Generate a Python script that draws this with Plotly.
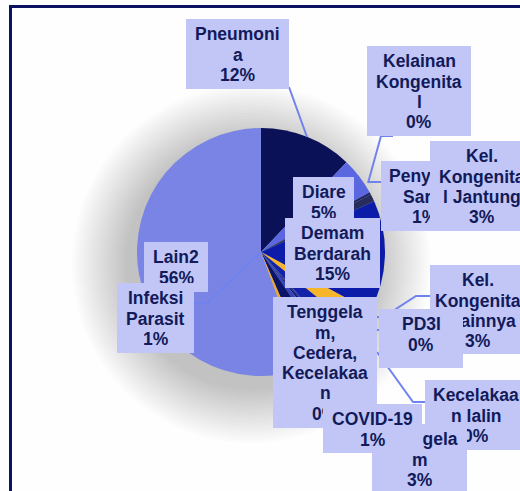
import plotly.graph_objects as go

W, H = 520, 491

# Causes of death and their shares (percent of total), in slice order
causes = [
    "Pneumonia", "Diare", "Kelainan Kongenital", "Penyakit Saraf",
    "Demam Berdarah", "Kel. Kongenital Jantung", "Kel. Kongenital Lainnya",
    "PD3I", "Tenggelam, Cedera, Kecelakaan", "Kecelakaan lalin",
    "COVID-19", "Tenggelam", "Infeksi Parasit", "Lain2",
]
shares = [12.1, 4.9, 0.3, 1.0, 14.6, 2.9, 2.8, 0.2, 0.3, 0.4, 1.1, 2.9, 0.9, 55.6]
slice_colors = [
    "#0a1157", "#5a67e0", "#1c2466", "#262d5c", "#0c1ca8", "#f7b52a",
    "#1222aa", "#2a3cc0", "#0b1575", "#0a1160", "#3344c0", "#0b1466",
    "#f0a820", "#7a84e4",
]
# Wrapped label text lines (percentage appended from the data)
label_lines = [
    ["Pneumoni", "a"], ["Diare"], ["Kelainan", "Kongenita", "l"], ["Penyakit", "Saraf"],
    ["Demam", "Berdarah"], ["Kel.", "Kongenita", "l Jantung"], ["Kel.", "Kongenita", "l Lainnya"],
    ["PD3I"], ["Tenggela", "m,", "Cedera,", "Kecelakaa", "n"], ["Kecelakaa", "n lalin"],
    ["COVID-19"], ["Tenggela", "m"], ["Infeksi", "Parasit"], ["Lain2"],
]

# Label boxes in pixels: left, top, right, bottom
label_boxes = {
    "Pneumonia": (186, 19, 289, 89),
    "Kelainan Kongenital": (367, 46, 471, 136),
    "Penyakit Saraf": (381, 161, 469, 231),
    "Kel. Kongenital Jantung": (430, 141, 533, 231),
    "Diare": (293, 177, 354, 227),
    "Demam Berdarah": (285, 218, 380, 288),
    "Lain2": (144, 242, 208, 292),
    "Infeksi Parasit": (117, 283, 194, 353),
    "Tenggelam, Cedera, Kecelakaan": (273, 297, 377, 428),
    "Kel. Kongenital Lainnya": (430, 265, 526, 354),
    "PD3I": (379, 309, 463, 368),
    "Kecelakaan lalin": (425, 380, 527, 450),
    "Tenggelam": (372, 424, 467, 494),
    "COVID-19": (323, 404, 422, 453),
}
draw_order = [
    "Pneumonia", "Kelainan Kongenital", "Penyakit Saraf", "Kel. Kongenital Jantung",
    "Diare", "Demam Berdarah", "Lain2", "Infeksi Parasit",
    "Tenggelam, Cedera, Kecelakaan", "Kel. Kongenital Lainnya", "PD3I",
    "Kecelakaan lalin", "Tenggelam", "COVID-19",
]

# Leader lines (pixel polylines)
leaders = [
    [(289, 87), (307, 137)],
    [(393, 136), (381, 136), (368, 183)],
    [(381, 182), (368, 182)],
    [(261, 252), (207, 303), (194, 303)],
    [(430, 296), (416, 296), (385, 316), (372, 318)],
    [(379, 330), (372, 330)],
    [(425, 402), (413, 402), (377, 352)],
]

# Pie placement (pixels)
cx, cy, r = 261, 252, 124

FONT = "Liberation Sans, Arial, sans-serif"
FS = 17.5          # label font size
PITCH = 20.3       # distance between label lines
FIRST_BASE = 21    # first baseline below the box top


def px(x):
    return x / W


def py(y):
    return 1 - y / H


total = sum(shares)
pct = {c: f"{round(v / total * 100)}%" for c, v in zip(causes, shares)}
lines_of = {c: lines + [pct[c]] for c, lines in zip(causes, label_lines)}

fig = go.Figure(go.Pie(
    labels=causes,
    values=shares,
    sort=False,
    direction="clockwise",
    rotation=0,
    marker=dict(colors=slice_colors, line=dict(width=0)),
    textinfo="none",
    hoverinfo="label+percent",
    showlegend=False,
    domain=dict(x=[px(cx - r), px(cx + r)], y=[py(cy + r), py(cy - r)]),
))

shapes = []
# Soft drop shadow under the pie
sx, sy = 251, 264
for i in range(20):
    rr = r + 2 + i * 2.8
    shapes.append(dict(
        type="circle", xref="paper", yref="paper", layer="below",
        x0=px(sx - rr), x1=px(sx + rr), y0=py(sy + rr), y1=py(sy - rr),
        fillcolor="rgba(0,0,0,0.010)", line=dict(width=0),
    ))

# Frame along the top and left edges
shapes.append(dict(
    type="path", xref="paper", yref="paper", layer="above",
    path=f"M {px(10.5)},{py(520)} L {px(10.5)},{py(6.5)} L {px(560)},{py(6.5)}",
    line=dict(color="#0b1262", width=3),
))

for pts in leaders:
    path = "M " + " L ".join(f"{px(x)},{py(y)}" for x, y in pts)
    shapes.append(dict(
        type="path", xref="paper", yref="paper", layer="above",
        path=path, line=dict(color="#7082ee", width=2),
    ))

annotations = []
for name in draw_order:
    l, t, rgt, b = label_boxes[name]
    # filled box
    annotations.append(dict(
        xref="paper", yref="paper", x=px(l), y=py(t),
        xanchor="left", yanchor="top",
        width=rgt - l, height=b - t, text=" ",
        showarrow=False, bgcolor="#c1c6f6", borderpad=0, borderwidth=0,
        font=dict(size=2),
    ))
    # text lines, each centred in the box
    mid = (l + rgt) / 2
    for k, line in enumerate(lines_of[name]):
        base = t + FIRST_BASE + k * PITCH
        annotations.append(dict(
            xref="paper", yref="paper", x=px(mid), y=py(base - 0.33 * FS),
            xanchor="center", yanchor="middle",
            text=f"<b>{line}</b>", showarrow=False, borderpad=0,
            font=dict(family=FONT, size=FS, color="#121a5a"),
        ))

fig.update_layout(
    width=W, height=H, autosize=False,
    margin=dict(l=0, r=0, t=0, b=0),
    paper_bgcolor="#fefefe", plot_bgcolor="#fefefe",
    shapes=shapes, annotations=annotations,
)

fig.write_html("out.html")
